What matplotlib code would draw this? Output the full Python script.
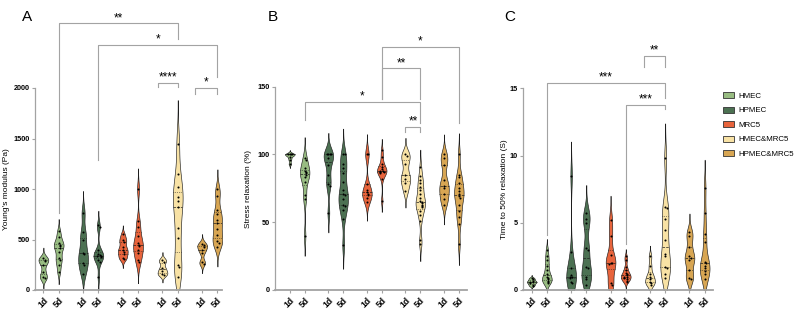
import numpy as np
import matplotlib.pyplot as plt
from matplotlib.patches import Patch

plt.rcParams['font.family'] = ['Liberation Sans', 'DejaVu Sans']

groups = ['HMEC', 'HPMEC', 'MRC5', 'HMEC&MRC5', 'HPMEC&MRC5']
colors = ['#98bc82', '#4c7152', '#e8643c', '#f8e2a5', '#d8a653']
days = ['1d', '5d']

# A: Young's modulus (Pa), order: group x (1d, 5d)
young = [
    [320, 300, 290, 250, 180, 130, 115],
    [580, 520, 470, 450, 440, 420, 380, 320, 300, 250, 180],
    [760, 570, 500, 370, 360, 270, 250, 160],
    [640, 620, 400, 360, 350, 340, 340, 330, 300, 280, 130],
    [550, 500, 480, 430, 400, 380, 360, 320, 310],
    [1000, 680, 620, 530, 470, 450, 440, 400, 370, 300, 280],
    [300, 280, 220, 190, 160, 150],
    [1450, 1150, 1020, 920, 880, 820, 610, 510, 250, 230, 130],
    [460, 445, 430, 400, 370, 280, 260],
    [1000, 930, 790, 750, 690, 660, 600, 540, 490, 470, 430],
]
# B: stress relaxation (%)
relax = [
    [100, 100, 100, 100, 98, 96, 93],
    [97, 96, 90, 88, 87, 86, 85, 83, 80, 70, 67, 40],
    [100, 100, 100, 100, 97, 92, 85, 78, 77, 57],
    [100, 100, 93, 90, 86, 80, 74, 71, 70, 67, 63, 62, 59, 52, 33],
    [100, 100, 78, 74, 72, 71, 70, 68, 65],
    [103, 98, 93, 91, 89, 88, 88, 87, 87, 86, 82, 66],
    [100, 99, 93, 85, 82, 79, 73],
    [91, 84, 81, 79, 76, 74, 71, 68, 66, 65, 64, 63, 62, 61, 58, 55, 51, 37, 34],
    [100, 97, 92, 81, 77, 75, 71, 67, 63],
    [100, 85, 83, 79, 75, 73, 71, 69, 68, 63, 58, 54, 49, 34],
]
# C: time to 50% relaxation (S)
t50 = [
    [0.9, 0.8, 0.7, 0.6, 0.6, 0.5, 0.4, 0.3],
    [3.0, 2.5, 2.2, 1.8, 1.5, 1.2, 1.0, 0.9, 0.8, 0.7, 0.6, 0.5],
    [8.5, 2.8, 1.6, 1.1, 1.0, 1.0, 0.9, 0.6, 0.5],
    [5.7, 5.3, 5.0, 3.1, 3.0, 1.7, 1.6, 1.0, 0.8, 0.4],
    [5.2, 4.0, 2.6, 2.0, 2.0, 1.9, 0.5, 0.4],
    [2.5, 2.2, 1.7, 1.5, 1.3, 1.2, 1.1, 1.0, 1.0, 0.9, 0.8, 0.7, 0.6],
    [2.5, 1.8, 1.2, 1.0, 0.8, 0.6, 0.5, 0.4],
    [9.8, 6.2, 6.1, 5.3, 4.5, 3.7, 2.7, 2.5, 1.7, 1.6, 1.2, 0.9],
    [4.3, 4.0, 3.2, 2.5, 2.4, 2.2, 1.5, 0.9, 0.8],
    [7.6, 5.7, 4.2, 3.6, 2.1, 2.0, 1.8, 1.6, 1.4, 1.2, 0.8],
]

# brackets: (left idx, right idx, line y, left leg end, right leg end, label, left shift)
brackets_a = [(1, 7, 2640, 760, 2490, '**', 0), (3, 9, 2426, 1290, 2110, '*', 0),
              (6, 7, 2053, 2005, 2005, '****', 0.27), (8, 9, 2000, 1940, 1940, '*', 0.45)]
brackets_b = [(5, 9, 179.4, 141, 122.8, '*', 0), (5, 7, 163.4, 141, 141, '**', 0),
              (1, 7, 138.8, 125.3, 123.5, '*', 0), (6, 7, 120.4, 116.7, 116.7, '**', 0)]
brackets_c = [(6, 7, 17.4, 16.6, 16.6, '**', 0.37), (1, 7, 15.4, 4.1, 14.3, '***', 0),
              (5, 7, 13.8, 3.4, 13.5, '***', 0)]

pos = np.array([g * 2.6 + d for g in range(5) for d in range(2)])
grey = '#a3a3a3'


def violin(ax, vals, x, color, tol, half=0.32, bwf=0.55):
    v = np.asarray(vals, float)
    n = len(v)
    bw = bwf * 1.06 * v.std(ddof=1) * n ** -0.2
    y = np.linspace(v.min() - 3 * bw, v.max() + 3 * bw, 400)
    dens = np.exp(-0.5 * ((y[:, None] - v[None, :]) / bw) ** 2).sum(1)
    dens /= dens.max()
    keep = dens > 0.004
    y, w = y[keep], dens[keep] * half
    ax.fill_betweenx(y, x - w, x + w, facecolor=color, edgecolor='#1e1e1e', lw=0.45, zorder=2)
    for q, ls in zip(np.percentile(v, [25, 50, 75]), [':', '--', ':']):
        hw = np.interp(q, y, w)
        ax.plot([x - hw, x + hw], [q, q], color='#202020', ls=ls, lw=0.5, zorder=3)
    placed, xs = [], []
    for val in v:
        k = sum(abs(val - p) < tol for p in placed)
        off = 0 if k == 0 else ((k + 1) // 2) * 0.09 * (1 if k % 2 else -1)
        placed.append(val)
        xs.append(x + off)
    ax.scatter(xs, v, s=2.2, color='black', lw=0, zorder=4)


def panel(ax, data, ymax, yticks, ylabel, brackets, xlim, letter, lx):
    for i, vals in enumerate(data):
        violin(ax, vals, pos[i], colors[i // 2], tol=yticks[-1] * 0.012)
    ax.set_ylim(0, ymax)
    ax.set_xlim(*xlim)
    for s in ['top', 'right']:
        ax.spines[s].set_visible(False)
    ax.spines['left'].set_bounds(0, yticks[-1])
    ax.spines['left'].set_color(grey)
    ax.spines['left'].set_linewidth(0.9)
    ax.spines['bottom'].set_color(grey)
    ax.spines['bottom'].set_linewidth(1.3)
    ax.set_yticks(yticks)
    ax.set_yticklabels([str(t) for t in yticks], fontweight='bold')
    ax.set_xticks(pos)
    ax.set_xticklabels(days * 5, rotation=45, ha='right', rotation_mode='anchor',
                       fontweight='bold', fontsize=6.2)
    ax.tick_params(color=grey, labelcolor='black', length=2.5, width=0.8, pad=1.5)
    ax.tick_params(axis='y', labelsize=5.2)
    ax.set_ylabel(ylabel, fontsize=6)
    ax.yaxis.set_label_coords(lx, 0.36)
    for i, j, y, l1, l2, lab, sh in brackets:
        x1, x2 = pos[i] - sh, pos[j]
        ax.plot([x1, x1, x2, x2], [l1, y, y, l2], color=grey, lw=0.8, clip_on=False, zorder=1)
        ax.annotate(lab, xy=((x1 + x2) / 2, y), xytext=(0, -0.5), textcoords='offset points',
                    ha='center', va='bottom', fontsize=8.5, annotation_clip=False)
    ax.text(letter[1], 1.0, letter[0], transform=ax.transAxes, fontsize=11, va='top', ha='left')


fig = plt.figure(figsize=(7.97, 3.10), dpi=100)
W, H = 797, 310
bottom, top = 290, 10


def axes_at(x0, x1):
    return fig.add_axes([x0 / W, (H - bottom) / H, (x1 - x0) / W, (bottom - top) / H])


axA = axes_at(35, 222)
axB = axes_at(275, 467)
axC = axes_at(523, 713)

panel(axA, young, 280 / 0.101, [0, 500, 1000, 1500, 2000], "Young's modulus (Pa)",
      brackets_a, (-0.55, 11.7), ('A', -0.07), -0.135)
panel(axB, relax, 280 / 1.356, [0, 50, 100, 150], 'Stress relaxation (%)',
      brackets_b, (-1.0, 11.95), ('B', -0.04), -0.12)
panel(axC, t50, 280 / 13.44, [0, 5, 10, 15], 'Time to 50% relaxation (S)',
      brackets_c, (-0.57, 11.95), ('C', -0.10), -0.08)

handles = [Patch(facecolor=c, edgecolor='#333333', lw=0.6) for c in colors]
fig.legend(handles, groups, loc='upper left', bbox_to_anchor=(716 / W, 1 - 85 / H), frameon=False,
           fontsize=5.7, handlelength=1.4, handleheight=0.8, labelspacing=0.85, handletextpad=0.5)

fig.savefig('out.png', dpi=100)
